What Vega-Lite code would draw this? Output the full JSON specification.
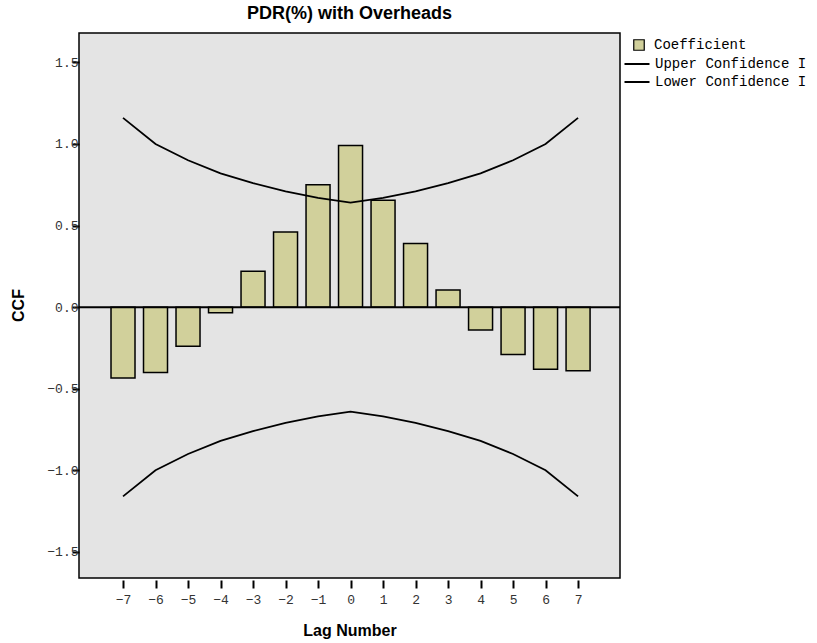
{
  "$schema": "https://vega.github.io/schema/vega-lite/v6.json",
  "autosize": "none",
  "width": 541,
  "height": 545,
  "padding": {"left": 79, "top": 33, "right": 197, "bottom": 65},
  "background": "white",
  "title": {"text": "PDR(%) with Overheads", "font": "Liberation Sans", "fontSize": 18, "fontWeight": "bold", "color": "black", "anchor": "middle", "offset": 10},
  "config": {
    "view": {"fill": "#e4e4e4", "stroke": "black", "strokeWidth": 1.5},
    "axis": {"grid": false, "domain": false, "labelFont": "Liberation Mono", "labelFontSize": 13, "labelColor": "#333333", "tickColor": "black", "tickWidth": 2, "titleFont": "Liberation Sans", "titleFontSize": 16, "titleFontWeight": "bold", "titleColor": "black"},
    "legend": {"labelFont": "Liberation Mono", "labelFontSize": 14, "labelColor": "black", "title": null}
  },
  "datasets": {
    "bars": [
      {"lag": -7, "ccf": -0.435},
      {"lag": -6, "ccf": -0.40},
      {"lag": -5, "ccf": -0.24},
      {"lag": -4, "ccf": -0.035},
      {"lag": -3, "ccf": 0.22},
      {"lag": -2, "ccf": 0.46},
      {"lag": -1, "ccf": 0.75},
      {"lag": 0, "ccf": 0.99},
      {"lag": 1, "ccf": 0.655},
      {"lag": 2, "ccf": 0.39},
      {"lag": 3, "ccf": 0.105},
      {"lag": 4, "ccf": -0.14},
      {"lag": 5, "ccf": -0.29},
      {"lag": 6, "ccf": -0.38},
      {"lag": 7, "ccf": -0.39}
    ],
    "conf": [
      {"lag": -7, "val": 1.16, "series": "Upper Confidence I"},
      {"lag": -6, "val": 1.00, "series": "Upper Confidence I"},
      {"lag": -5, "val": 0.90, "series": "Upper Confidence I"},
      {"lag": -4, "val": 0.82, "series": "Upper Confidence I"},
      {"lag": -3, "val": 0.76, "series": "Upper Confidence I"},
      {"lag": -2, "val": 0.71, "series": "Upper Confidence I"},
      {"lag": -1, "val": 0.67, "series": "Upper Confidence I"},
      {"lag": 0, "val": 0.64, "series": "Upper Confidence I"},
      {"lag": 1, "val": 0.67, "series": "Upper Confidence I"},
      {"lag": 2, "val": 0.71, "series": "Upper Confidence I"},
      {"lag": 3, "val": 0.76, "series": "Upper Confidence I"},
      {"lag": 4, "val": 0.82, "series": "Upper Confidence I"},
      {"lag": 5, "val": 0.90, "series": "Upper Confidence I"},
      {"lag": 6, "val": 1.00, "series": "Upper Confidence I"},
      {"lag": 7, "val": 1.16, "series": "Upper Confidence I"},
      {"lag": -7, "val": -1.16, "series": "Lower Confidence I"},
      {"lag": -6, "val": -1.00, "series": "Lower Confidence I"},
      {"lag": -5, "val": -0.90, "series": "Lower Confidence I"},
      {"lag": -4, "val": -0.82, "series": "Lower Confidence I"},
      {"lag": -3, "val": -0.76, "series": "Lower Confidence I"},
      {"lag": -2, "val": -0.71, "series": "Lower Confidence I"},
      {"lag": -1, "val": -0.67, "series": "Lower Confidence I"},
      {"lag": 0, "val": -0.64, "series": "Lower Confidence I"},
      {"lag": 1, "val": -0.67, "series": "Lower Confidence I"},
      {"lag": 2, "val": -0.71, "series": "Lower Confidence I"},
      {"lag": 3, "val": -0.76, "series": "Lower Confidence I"},
      {"lag": 4, "val": -0.82, "series": "Lower Confidence I"},
      {"lag": 5, "val": -0.90, "series": "Lower Confidence I"},
      {"lag": 6, "val": -1.00, "series": "Lower Confidence I"},
      {"lag": 7, "val": -1.16, "series": "Lower Confidence I"}
    ],
    "zero": [{"z": 0}]
  },
  "layer": [
    {
      "data": {"name": "bars"},
      "transform": [{"calculate": "'Coefficient'", "as": "bar_series"}],
      "mark": {"type": "bar", "width": 24, "stroke": "black", "strokeWidth": 1.5, "strokeJoin": "miter"},
      "encoding": {
        "x": {"field": "lag", "type": "quantitative", "scale": {"domain": [-8.354, 8.29], "nice": false, "zero": false, "padding": 0},
              "axis": {"values": [-7,-6,-5,-4,-3,-2,-1,0,1,2,3,4,5,6,7], "tickCount": 30, "format": "d", "labelOverlap": false, "labelBound": false, "offset": 2, "tickSize": 8, "labelPadding": 5, "title": "Lag Number", "titleY": 50, "titleBaseline": "middle"}},
        "y": {"field": "ccf", "type": "quantitative", "scale": {"domain": [-1.66, 1.68], "nice": false, "zero": false, "padding": 0},
              "axis": {"values": [-1.5,-1,-0.5,0,0.5,1,1.5], "tickCount": 20, "format": ".1f", "labelOverlap": false, "tickSize": 7, "labelPadding": -6, "title": "CCF", "titleX": -61, "titleY": 272, "titleBaseline": "middle", "titleAlign": "center", "titleAngle": -90}},
        "y2": {"datum": 0},
        "fill": {"field": "bar_series", "type": "nominal", "scale": {"domain": ["Coefficient"], "range": ["#d1d09b"]},
                 "legend": {"orient": "none", "legendX": 553, "legendY": 5, "symbolType": "square", "symbolSize": 110, "symbolStrokeColor": "black", "symbolStrokeWidth": 1.2, "labelOffset": 8}}
      }
    },
    {
      "data": {"name": "zero"},
      "mark": {"type": "rule", "color": "black", "strokeWidth": 2},
      "encoding": {"y": {"field": "z", "type": "quantitative"}}
    },
    {
      "data": {"name": "conf"},
      "mark": {"type": "line", "strokeWidth": 1.8},
      "encoding": {
        "x": {"field": "lag", "type": "quantitative"},
        "y": {"field": "val", "type": "quantitative"},
        "stroke": {"field": "series", "type": "nominal", "sort": ["Upper Confidence I", "Lower Confidence I"], "scale": {"domain": ["Upper Confidence I", "Lower Confidence I"], "range": ["black", "black"]},
                   "legend": {"orient": "none", "legendX": 551, "legendY": 24, "symbolType": "M-2.5,0H2.5", "symbolSize": 100, "symbolStrokeWidth": 2, "labelOffset": 11, "rowPadding": 4}}
      }
    }
  ]
}
